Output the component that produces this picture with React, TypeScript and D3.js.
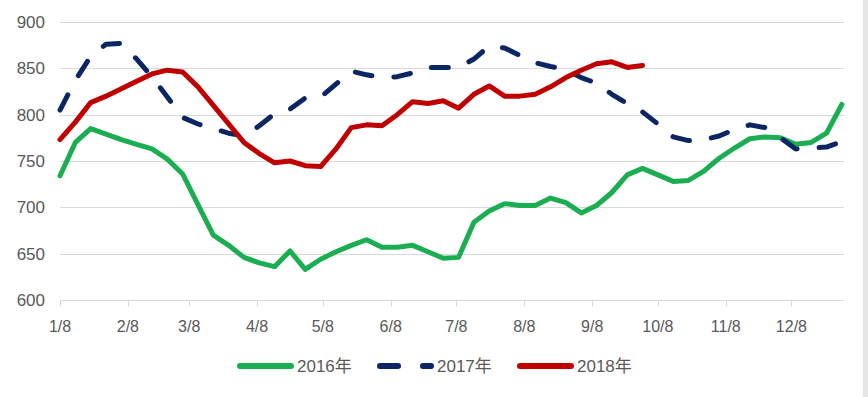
import * as d3 from 'd3'
import { useEffect, useRef } from 'react'

// weekly prices, first point on 1/8, one point every 7 days
const series2016 = [
  734, 770, 785, 779, 773, 768, 763, 752, 736, 703, 670, 659, 646, 640, 636, 653,
  633, 644, 652, 659, 665, 657, 657, 659, 652, 645, 646, 684, 696, 704, 702, 702,
  710, 705, 694, 702, 716, 735, 742, 735, 728, 729, 739, 753, 764, 774, 776, 775,
  768, 770, 780, 811
]
const series2017 = [
  805, 837, 863, 876, 877, 860, 841, 819, 797, 790, 785, 780, 777, 788, 801, 806,
  818, 819, 833, 847, 843, 840, 841, 845, 851, 851, 851, 860, 874, 872, 864, 856,
  852, 849, 840, 834, 822, 812, 803, 790, 776, 772, 773, 777, 784, 789, 786, 775,
  763, 764, 765, 771
]
const series2018 = [
  773, 792, 813, 820, 828, 836, 844, 848, 846, 830, 810, 790, 770, 758, 748, 750,
  745, 744, 763, 786, 789, 788, 800, 814, 812, 815, 807, 822, 831, 820, 820, 822,
  830, 840, 848, 855, 857, 851, 853
]

const seriesNames = ['2016年', '2017年', '2018年']
const seriesColors = ['#1aad52', '#0b2662', '#c00000']
const xTickLabels = ['1/8', '2/8', '3/8', '4/8', '5/8', '6/8', '7/8', '8/8', '9/8', '10/8', '11/8', '12/8']
const yTicks = [600, 650, 700, 750, 800, 850, 900]

const font = '"Liberation Sans", "Noto Sans CJK SC", sans-serif'

export default function App() {
  const svgRef = useRef<SVGSVGElement | null>(null)

  useEffect(() => {
    if (!svgRef.current) return
    const width = 868
    const height = 397
    const left = 60
    const right = 844
    const top = 22
    const bottom = 300

    const svg = d3.select(svgRef.current)
    svg.selectAll('*').remove()
    svg.attr('width', width).attr('height', height)

    const start = new Date(Date.UTC(2017, 0, 8))
    const x = d3
      .scaleUtc()
      .domain([start, new Date(Date.UTC(2018, 0, 1))])
      .range([left, right])
    const y = d3.scaleLinear().domain([600, 900]).range([bottom, top])

    const weekDate = (i: number) => d3.utcDay.offset(start, 7 * i)
    const tickDates = xTickLabels.map((_, m) => new Date(Date.UTC(2017, m, 8)))

    // grid
    svg
      .append('g')
      .selectAll('line')
      .data(yTicks)
      .join('line')
      .attr('x1', left)
      .attr('x2', right)
      .attr('y1', d => Math.round(y(d)) + 0.5)
      .attr('y2', d => Math.round(y(d)) + 0.5)
      .attr('stroke', '#d9d9d9')
      .attr('stroke-width', 1)

    // y labels
    svg
      .append('g')
      .selectAll('text')
      .data(yTicks)
      .join('text')
      .attr('x', 45)
      .attr('y', d => y(d))
      .attr('dy', '0.35em')
      .attr('text-anchor', 'end')
      .attr('font-family', font)
      .attr('font-size', 17)
      .attr('fill', '#595959')
      .text(d => d)

    // x ticks
    svg
      .append('g')
      .selectAll('line')
      .data(tickDates)
      .join('line')
      .attr('x1', d => Math.round(x(d)) + 0.5)
      .attr('x2', d => Math.round(x(d)) + 0.5)
      .attr('y1', bottom)
      .attr('y2', bottom + 6)
      .attr('stroke', '#d9d9d9')

    svg
      .append('g')
      .selectAll('text')
      .data(tickDates)
      .join('text')
      .attr('x', d => x(d))
      .attr('y', 332)
      .attr('text-anchor', 'middle')
      .attr('font-family', font)
      .attr('font-size', 16)
      .attr('fill', '#595959')
      .text((_, i) => xTickLabels[i])

    const line = d3
      .line<number>()
      .x((_, i) => x(weekDate(i)))
      .y(d => y(d))

    const allSeries = [series2016, series2017, series2018]
    allSeries.forEach((values, k) => {
      svg
        .append('path')
        .datum(values)
        .attr('fill', 'none')
        .attr('stroke', seriesColors[k])
        .attr('stroke-width', 5)
        .attr('stroke-linejoin', 'round')
        .attr('stroke-linecap', 'round')
        .attr('stroke-dasharray', k === 1 ? '17 22' : null)
        .attr('d', line)
    })

    // legend
    const legendY = 366
    const legend = svg
      .append('g')
      .selectAll('g')
      .data(seriesNames)
      .join('g')
      .attr('transform', (_, i) => `translate(${240 + i * 140},${legendY})`)

    legend
      .append('line')
      .attr('x1', 0)
      .attr('x2', 51)
      .attr('stroke', (_, i) => seriesColors[i])
      .attr('stroke-width', 6)
      .attr('stroke-linecap', 'round')
      .attr('stroke-dasharray', (_, i) => (i === 1 ? '18 25' : null))

    legend
      .append('text')
      .attr('x', 57)
      .attr('dy', '0.35em')
      .attr('font-family', font)
      .attr('font-size', 17)
      .attr('fill', '#595959')
      .text(d => d)

    svg
      .append('rect')
      .attr('x', 863)
      .attr('y', 0)
      .attr('width', 5)
      .attr('height', height)
      .attr('fill', '#e6e6e6')
  }, [])

  return (
    <svg
      ref={svgRef}
      style={{ position: 'absolute', left: 0, top: 0, background: '#fff' }}
    />
  )
}
